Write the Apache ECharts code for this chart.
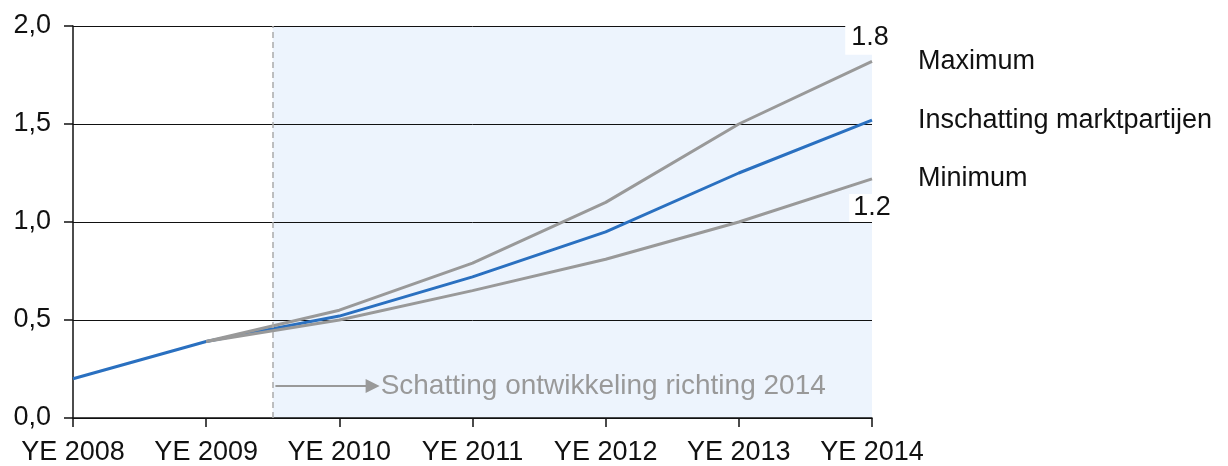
<!DOCTYPE html>
<html>
<head>
<meta charset="utf-8">
<script src="https://cdn.jsdelivr.net/npm/echarts@6/dist/echarts.min.js"></script>
<style>
  html, body { margin: 0; padding: 0; background: #fff; }
  #chart { width: 1228px; height: 466px; }
</style>
</head>
<body>
<div id="chart"></div>
<script>
// categories on the x axis
const categories = ['YE 2008', 'YE 2009', 'YE 2010', 'YE 2011', 'YE 2012', 'YE 2013', 'YE 2014']
// series values (null = no point)
const estimate = [0.20, 0.39, 0.52, 0.72, 0.95, 1.25, 1.52]
const maximum = [null, 0.39, 0.55, 0.79, 1.10, 1.50, 1.82]
const minimum = [null, 0.39, 0.50, 0.65, 0.81, 1.00, 1.22]
const endValueLabels = ['1.8', '1.2']
const forecastStart = 1.5 // halfway YE 2009 - YE 2010
const arrowLevel = 0.163
const arrowEnd = 2.25
const noteText = 'Schatting ontwikkeling richting 2014'

const font = 'Liberation Sans, Arial, sans-serif'
const fs = 27

function pairs(arr) {
  return arr.map((v, i) => [i, v]).filter(p => p[1] !== null)
}

function lastPoint(arr) {
  const p = pairs(arr)
  return p[p.length - 1]
}

const valueLabel = {
  show: true,
  color: '#111',
  fontSize: fs,
  backgroundColor: '#fff',
  padding: [1, 4, 0, 4]
}

const chart = echarts.init(document.getElementById('chart'))

const option = {
  animation: false,
  textStyle: { fontFamily: font },
  grid: { left: 73, right: 356, top: 26, bottom: 48 },
  xAxis: {
    type: 'value',
    min: 0,
    max: 6,
    interval: 1,
    axisLine: { show: true, lineStyle: { color: '#111', width: 1.5 } },
    axisTick: { show: true, length: 9, lineStyle: { color: '#111', width: 1.5 } },
    splitLine: { show: false },
    axisLabel: {
      color: '#111',
      fontSize: fs,
      margin: 21,
      formatter: v => categories[v] || ''
    }
  },
  yAxis: {
    type: 'value',
    min: 0,
    max: 2,
    interval: 0.5,
    axisLine: { show: true, lineStyle: { color: '#111', width: 1.5 } },
    axisTick: { show: true, length: 9, lineStyle: { color: '#111', width: 1.5 } },
    splitLine: { show: true, lineStyle: { color: '#111', width: 1 } },
    axisLabel: {
      color: '#111',
      fontSize: fs,
      margin: 22,
      formatter: v => v.toFixed(1).replace('.', ',')
    }
  },
  series: [
    {
      // background band for the forecast period, below the grid lines
      name: 'band',
      type: 'line',
      data: [],
      z: -1,
      silent: true,
      markArea: {
        z: -1,
        silent: true,
        itemStyle: { color: '#edf4fd' },
        data: [[{ coord: [forecastStart, 0] }, { coord: [6, 2] }]]
      }
    },
    {
      name: 'Inschatting marktpartijen',
      type: 'line',
      data: pairs(estimate),
      symbol: 'none',
      z: 3,
      lineStyle: { color: '#2a70c0', width: 3 },
      endLabel: {
        show: true,
        formatter: '{a}',
        distance: 46,
        color: '#111',
        fontSize: fs
      },
      markLine: {
        silent: true,
        symbol: 'none',
        animation: false,
        data: [
          {
            xAxis: forecastStart,
            lineStyle: { color: '#aaa', type: [6, 4], width: 1.5 },
            label: { show: false }
          },
          [
            {
              coord: [forecastStart + 0.02, arrowLevel],
              symbol: 'none',
              lineStyle: { color: '#999', type: 'solid', width: 2 },
              label: {
                show: true,
                position: 'end',
                formatter: noteText,
                color: '#999',
                fontSize: 28,
                distance: 8
              }
            },
            { coord: [arrowEnd, arrowLevel], symbol: 'triangle', symbolSize: [14, 14], symbolRotate: -90 }
          ]
        ]
      }
    },
    {
      name: 'Maximum',
      type: 'line',
      data: pairs(maximum),
      symbol: 'none',
      z: 4,
      lineStyle: { color: '#999', width: 3 },
      endLabel: {
        show: true,
        formatter: '{a}',
        distance: 46,
        color: '#111',
        fontSize: fs
      },
      markPoint: {
        silent: true,
        symbol: 'circle',
        symbolSize: 0,
        data: [{
          coord: lastPoint(maximum),
          label: Object.assign({}, valueLabel, {
            formatter: endValueLabels[0],
            offset: [-2, -24],
            padding: [6, 6, 2, 6]
          })
        }]
      }
    },
    {
      name: 'Minimum',
      type: 'line',
      data: pairs(minimum),
      symbol: 'none',
      z: 4,
      lineStyle: { color: '#999', width: 3 },
      endLabel: {
        show: true,
        formatter: '{a}',
        distance: 46,
        color: '#111',
        fontSize: fs
      },
      markPoint: {
        silent: true,
        symbol: 'circle',
        symbolSize: 0,
        data: [{
          coord: lastPoint(minimum),
          label: Object.assign({}, valueLabel, { formatter: endValueLabels[1], offset: [0, 29] })
        }]
      }
    }
  ]
}

chart.setOption(option)
</script>
</body>
</html>
